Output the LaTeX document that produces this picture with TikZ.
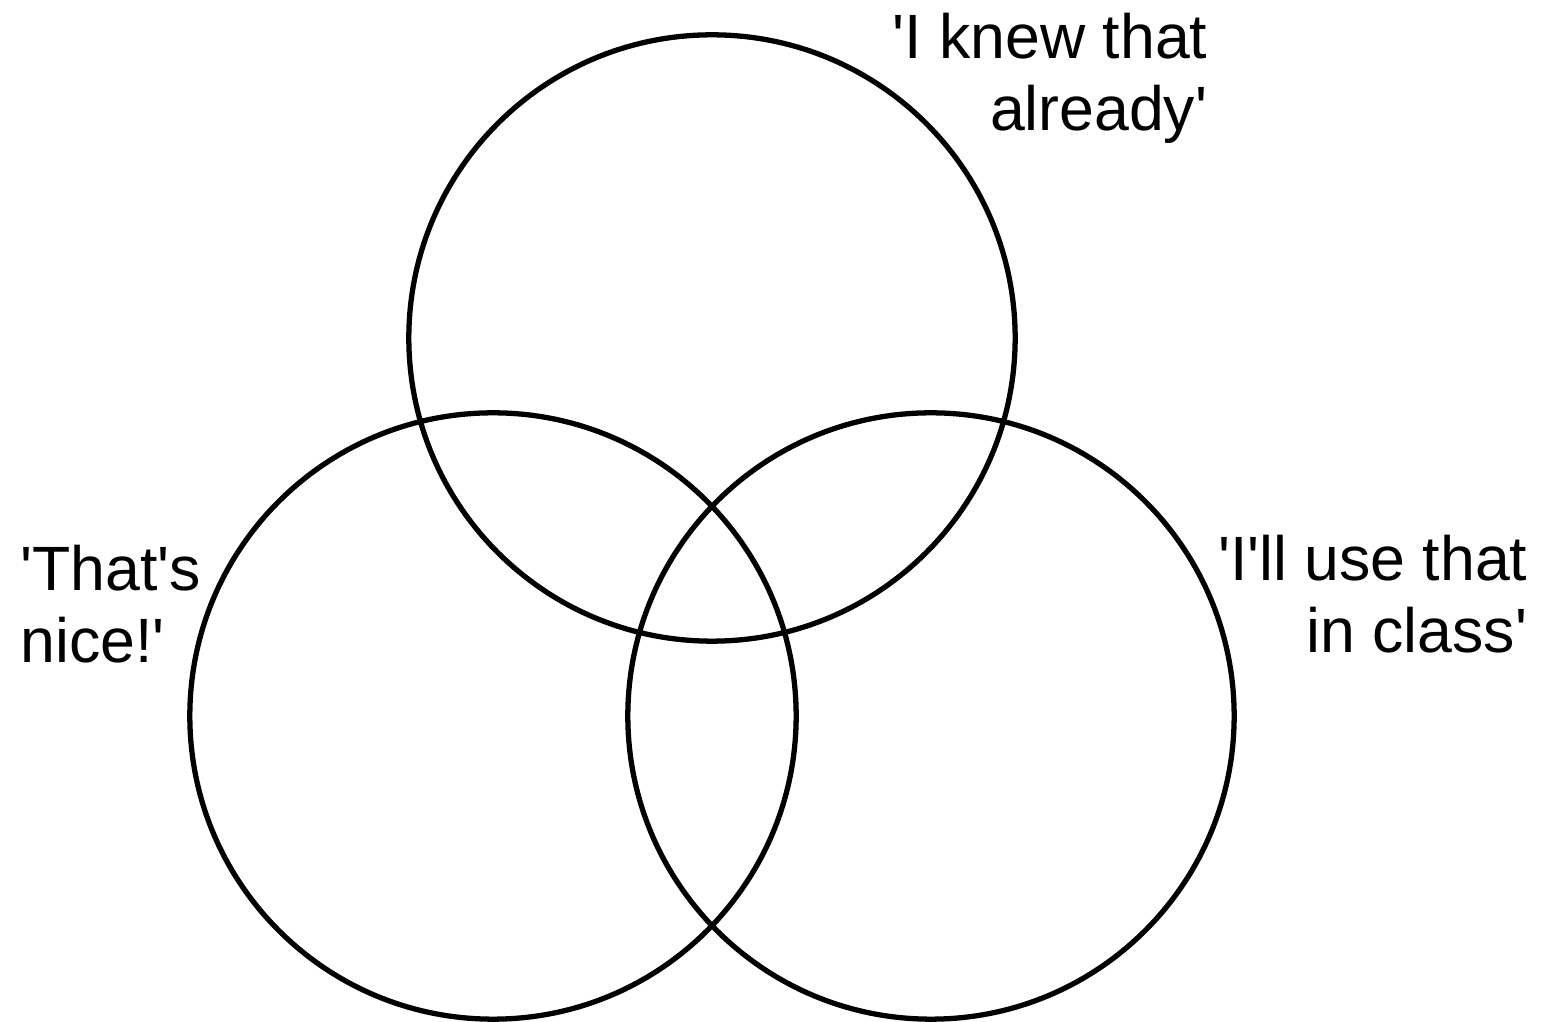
\documentclass[tikz,border=0pt]{standalone}
\usepackage{fontspec}
\setmainfont{Liberation Sans}
\usepackage{tikz}
\pgfdeclarelayer{edgelayer}
\pgfdeclarelayer{nodelayer}
\pgfsetlayers{edgelayer,nodelayer,main}
\tikzstyle{set}=[circle, draw=black, line width=1.5pt, inner sep=0pt, minimum size=6.06cm]
\tikzstyle{label}=[inner sep=0pt, font=\fontsize{17.8pt}{20.6pt}\selectfont]
\newcommand{\q}{\textquotesingle}

\begin{document}
\begin{tikzpicture}[x=0.01cm, y=-0.01cm]
				\useasboundingbox (0, 0) rectangle (1547, 1022);
				\begin{pgfonlayer}{edgelayer}
					\node [style=set] (0) at (712, 338) {};
					\node [style=set] (1) at (493, 716) {};
					\node [style=set] (2) at (931, 716) {};
				\end{pgfonlayer}
				\begin{pgfonlayer}{nodelayer}
					\node [style=label, align=right, anchor=north east] (3) at (1208, 12) {\q I knew that\\already\q};
					\node [style=label, align=left, anchor=north west] (4) at (20, 544) {\q That\q s\\nice!\q};
					\node [style=label, align=right, anchor=north east] (5) at (1528, 534) {\q I\q ll use that\\in class\q};
				\end{pgfonlayer}
			\end{tikzpicture}
\end{document}
